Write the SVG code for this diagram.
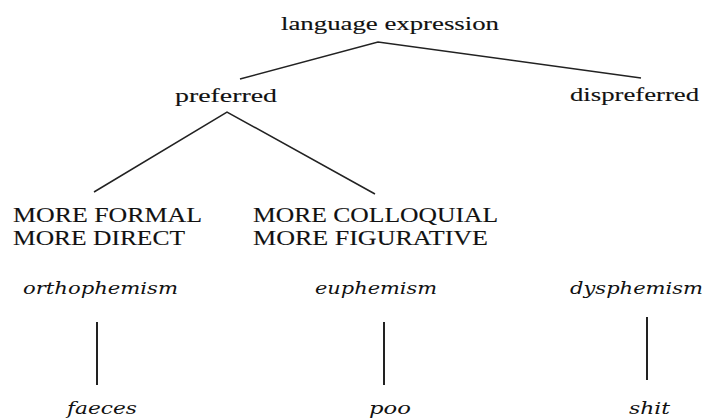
<svg xmlns="http://www.w3.org/2000/svg" width="705" height="418" viewBox="0 0 705 418">
<style>
.t{font-family:"Liberation Serif","Times New Roman",serif;font-size:19px;fill:#111;stroke:#111;stroke-width:0.12}
.c{font-family:"Liberation Serif","Times New Roman",serif;font-size:20px;fill:#111;stroke:#111;stroke-width:0.12}
.i{font-family:"DejaVu Serif","Liberation Serif",serif;font-style:italic;font-size:17px;fill:#111}
.e{stroke:#222;stroke-width:1.5;fill:none}
.v{stroke:#222;stroke-width:2;fill:none}
</style>
<rect width="705" height="418" fill="#fff"/>
<g id="connectors">
<polyline class="e" points="240,79 378,42 641,78"/>
<polyline class="e" points="94,192 227,112 375,194"/>
<line class="v" x1="97" y1="322" x2="97" y2="385"/>
<line class="v" x1="384" y1="322" x2="384" y2="385"/>
<line class="v" x1="647" y1="317" x2="647" y2="380"/>
</g>
<g id="language-expression"><text class="t" x="281" y="30" textLength="218" lengthAdjust="spacingAndGlyphs">language expression</text></g>
<g id="preferred"><text class="t" x="175" y="102" textLength="102" lengthAdjust="spacingAndGlyphs">preferred</text></g>
<g id="dispreferred"><text class="t" x="570" y="101" textLength="129" lengthAdjust="spacingAndGlyphs">dispreferred</text></g>
<g id="formal-direct">
<text class="c" x="13" y="222" textLength="189" lengthAdjust="spacingAndGlyphs">MORE FORMAL</text>
<text class="c" x="13" y="245" textLength="172" lengthAdjust="spacingAndGlyphs">MORE DIRECT</text>
</g>
<g id="colloquial-figurative">
<text class="c" x="253" y="222" textLength="245" lengthAdjust="spacingAndGlyphs">MORE COLLOQUIAL</text>
<text class="c" x="253" y="245" textLength="235" lengthAdjust="spacingAndGlyphs">MORE FIGURATIVE</text>
</g>
<g id="orthophemism"><text class="i" x="23" y="294" textLength="155" lengthAdjust="spacingAndGlyphs">orthophemism</text></g>
<g id="euphemism"><text class="i" x="315" y="294" textLength="122" lengthAdjust="spacingAndGlyphs">euphemism</text></g>
<g id="dysphemism"><text class="i" x="570" y="294" textLength="133" lengthAdjust="spacingAndGlyphs">dysphemism</text></g>
<g id="faeces"><text class="i" x="67" y="414" textLength="70" lengthAdjust="spacingAndGlyphs">faeces</text></g>
<g id="poo"><text class="i" x="369" y="414" textLength="42" lengthAdjust="spacingAndGlyphs">poo</text></g>
<g id="shit"><text class="i" x="629" y="414" textLength="41" lengthAdjust="spacingAndGlyphs">shit</text></g>
</svg>
